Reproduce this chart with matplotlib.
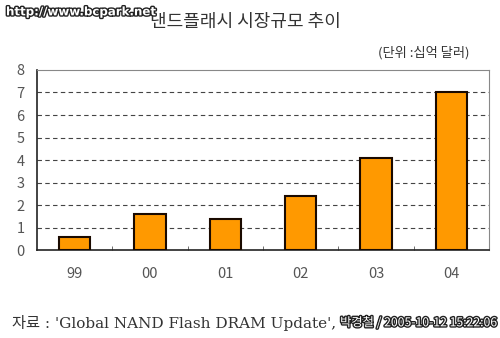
import matplotlib
matplotlib.use('Agg')
import matplotlib.pyplot as plt
import matplotlib.patheffects as pe

plt.rcParams['font.family'] = ['Noto Sans CJK KR', 'DejaVu Sans']

# data
years = ['99', '00', '01', '02', '03', '04']
market = [0.6, 1.6, 1.4, 2.4, 4.1, 7.0]
y_ticks = [0, 1, 2, 3, 4, 5, 6, 7, 8]

fig = plt.figure(figsize=(5, 3.38), dpi=100)
ax = fig.add_axes([0.074, 0.26, 0.904, 0.533])

x = list(range(len(years)))
ax.bar(x, market, width=0.42, color='#ff9900', edgecolor='#1a0a00', linewidth=1.5, zorder=3)

ax.set_xlim(-0.5, len(years) - 0.5)
ax.set_ylim(0, 8)
ax.set_yticks(y_ticks)
ax.set_xticks(x)
ax.set_xticklabels(years)
for yv in y_ticks[1:-1]:
    ax.axhline(yv, color='#444444', linestyle=(0, (4, 3)), linewidth=0.8, zorder=1)

# small separators between categories on the x axis
ax.set_xticks([i + 0.5 for i in x[:-1]], minor=True)
ax.tick_params(axis='x', which='minor', direction='in', length=3, color='#555555')
ax.tick_params(axis='x', which='major', length=0, pad=12, labelsize=10.5, labelcolor='#555555')
ax.tick_params(axis='y', length=0, pad=9, labelsize=10.5, labelcolor='#555555')

ax.spines['left'].set_color('#222222')
ax.spines['bottom'].set_color('#222222')
ax.spines['left'].set_linewidth(1.2)
ax.spines['bottom'].set_linewidth(1.2)
ax.spines['top'].set_color('#888888')
ax.spines['right'].set_color('#888888')

fig.text(0.49, 0.935, '낸드플래시 시장규모 추이', ha='center', va='center', fontsize=13, color='#333333')
fig.text(0.94, 0.845, '(단위 :십억 달러)', ha='right', va='center', fontsize=9.5, color='#333333')
fig.text(0.012, 0.965, 'http://www.bcpark.net', ha='left', va='center', fontsize=8.5,
         color='white', fontweight='bold', family=['DejaVu Sans'],
         path_effects=[pe.withStroke(linewidth=2, foreground='#222222')])
fig.text(0.024, 0.045, "자료 : 'Global NAND Flash DRAM Update',", ha='left', va='center',
         fontsize=11, color='#333333', family=['DejaVu Serif', 'Noto Sans CJK KR'])
fig.text(0.995, 0.045, '박경철 / 2005-10-12 15:22:06', ha='right', va='center', fontsize=8.8,
         color='white', family=['Noto Sans CJK KR', 'DejaVu Sans'],
         path_effects=[pe.withStroke(linewidth=2, foreground='#222222')])

fig.savefig('out.png', dpi=100)
